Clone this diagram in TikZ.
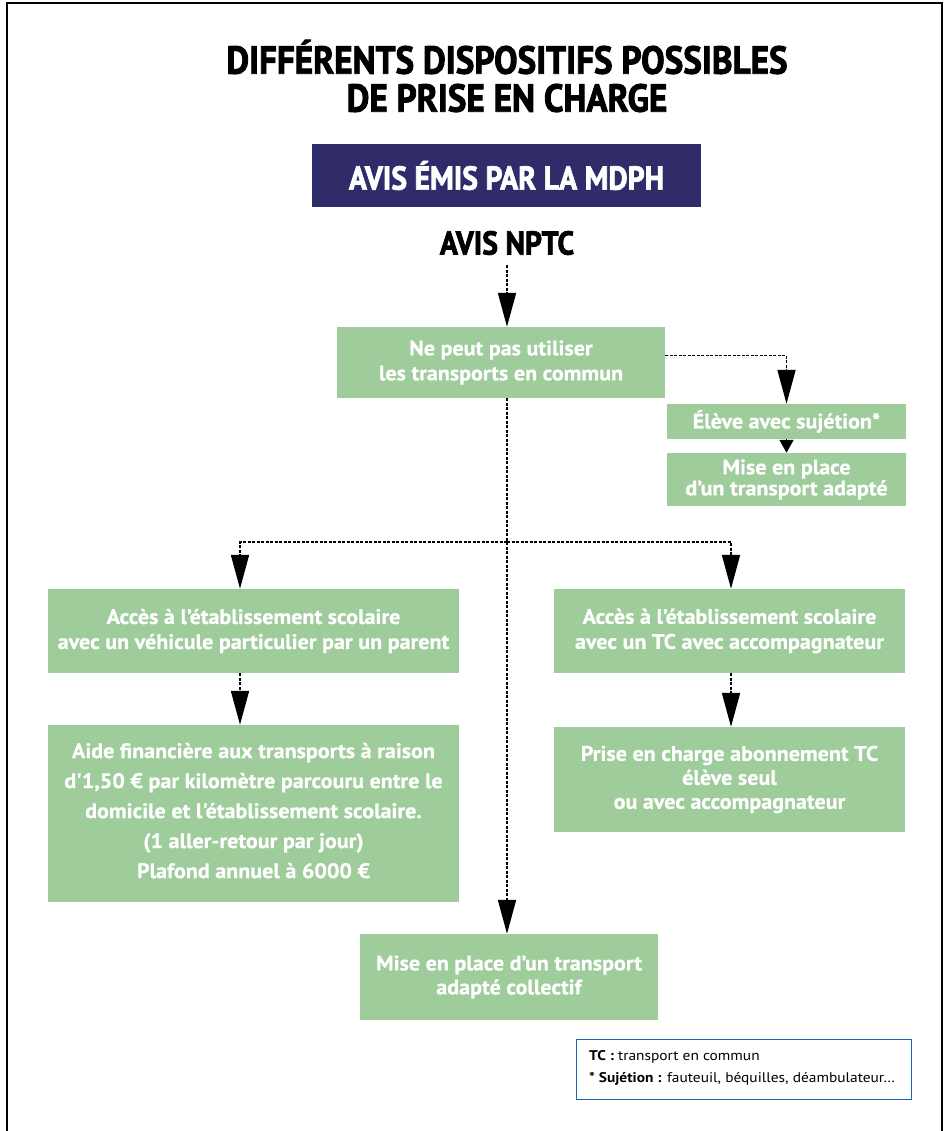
\documentclass[tikz,border=0pt]{standalone}
\usepackage{fontspec}
\setmainfont{PT Sans}
\newfontfamily\boxfont[FakeStretch=1.05,FakeBold=0.6]{PT Sans}
\newfontfamily\titlefont[FakeStretch=0.9,FakeBold=2.2]{PT Sans}
\newfontfamily\legfont[FakeStretch=1.1]{PT Sans}
\usetikzlibrary{arrows.meta}
\definecolor{boxgreen}{HTML}{9ECC9B}
\definecolor{navy}{HTML}{302B69}
\definecolor{legblue}{HTML}{2066B8}
\begin{document}
\begin{tikzpicture}[x=1pt,y=-1pt,
  gbox/.style={fill=boxgreen, text=white, align=center, inner sep=0pt,
    font=\boxfont\bfseries\fontsize{21}{25}\selectfont},
  conn/.style={draw=black, line width=1.8pt, dash pattern=on 3pt off 1.5pt,
    -{Triangle[width=18pt,length=34pt]}},
  smallconn/.style={draw=black, line width=1.8pt, -{Triangle[width=14pt,length=13pt]}},
  frame/.style={line width=2.2pt, line cap=rect}]
\useasboundingbox (0,0) rectangle (945,1131);
\draw[frame] (7,1131) -- (7,3) -- (942,3) -- (942,1131);

\node[font=\titlefont\bfseries\fontsize{39}{38}\selectfont, align=center] (title) at (507,76)
  {DIFFÉRENTS DISPOSITIFS POSSIBLES\\DE PRISE EN CHARGE};
\node[fill=navy, text=white, minimum width=389pt, minimum height=63pt, inner sep=0pt,
  font=\titlefont\bfseries\fontsize{33}{33}\selectfont] (mdph) at (506.5,175.5) {AVIS ÉMIS PAR LA MDPH};
\node[font=\titlefont\bfseries\fontsize{33}{33}\selectfont, inner sep=0pt, minimum height=44pt] (nptc) at (507,243) {AVIS NPTC};

\node[gbox, minimum width=328pt, minimum height=71pt] (box1) at (501,362.5)
  {Ne peut pas utiliser\\les transports en commun};
\node[gbox, minimum width=239pt, minimum height=35pt] (eleve) at (786.5,421.5)
  {Élève avec sujétion*};
\node[gbox, minimum width=239pt, minimum height=53pt, font=\boxfont\bfseries\fontsize{21}{21}\selectfont] (mise1) at (786.5,479.5)
  {Mise en place\\d’un transport adapté};
\node[gbox, minimum width=411pt, minimum height=84pt] (L1) at (253.5,631)
  {Accès à l’établissement scolaire\\avec un véhicule particulier par un parent};
\node[gbox, minimum width=351pt, minimum height=84pt] (R1) at (729.5,631)
  {Accès à l’établissement scolaire\\avec un TC avec accompagnateur};
\node[gbox, minimum width=411pt, minimum height=177pt, font=\boxfont\bfseries\fontsize{21}{30}\selectfont] (L2) at (253.5,813.5)
  {Aide financière aux transports à raison\\d'1,50 € par kilomètre parcouru entre le\\domicile et l'établissement scolaire.\\(1 aller-retour par jour)\\Plafond annuel à 6000 €\rule[-6pt]{0pt}{1pt}};
\node[gbox, minimum width=351pt, minimum height=105pt, font=\boxfont\bfseries\fontsize{21}{24}\selectfont] (R2) at (729.5,779.5)
  {Prise en charge abonnement TC\\élève seul\\ou avec accompagnateur};
\node[gbox, minimum width=298pt, minimum height=86pt, font=\boxfont\bfseries\fontsize{21}{24}\selectfont] (bottom) at (509,977)
  {Mise en place d’un transport\\adapté collectif};

\node[draw=legblue, line width=1pt, minimum width=335pt, minimum height=60pt, inner sep=0pt] (legend) at (743.5,1069) {};
\node[anchor=west, align=left, inner sep=0pt, font=\legfont\fontsize{14}{22.5}\selectfont] (legtext) at (589,1068)
  {\textbf{TC :} transport en commun\\\textbf{* Sujétion :} fauteuil, béquilles, déambulateur…};

\coordinate (split) at (507,542);
\draw[conn] (nptc.south) -- (nptc.south |- box1.north);
\draw[conn] ([yshift=7pt]box1.east) -| (eleve.north);
\draw[smallconn] (eleve.south) -- (mise1.north);
\draw[conn] ([xshift=6pt]box1.south) -- ([xshift=6pt]box1.south |- bottom.north);
\draw[conn] (split) -| ([xshift=-13.5pt]L1.north);
\draw[conn] (split) -| ([xshift=1.5pt]R1.north);
\draw[conn] ([xshift=-13.5pt]L1.south) -- ([xshift=-13.5pt]L2.north);
\draw[conn] ([xshift=1.5pt]R1.south) -- ([xshift=1.5pt]R2.north);
\end{tikzpicture}
\end{document}
